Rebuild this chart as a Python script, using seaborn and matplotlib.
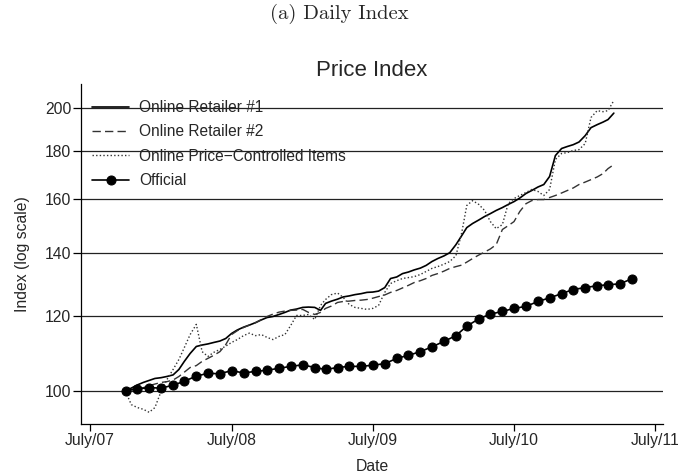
import matplotlib
matplotlib.use("Agg")
import matplotlib.pyplot as plt
from matplotlib.ticker import FixedLocator, FixedFormatter, NullLocator
import seaborn as sns
import pandas as pd

# semi-monthly readings (1st and 16th), Oct 2007 - Mar 2011
first_month = "2007-10-01"
last_month = "2011-03-01"

retailer1 = [
    99.9, 100.6, 101.4, 102.0, 102.5, 103.0, 103.2, 103.5, 103.9, 105.3,
    107.4, 109.5, 111.4, 111.8, 112.1, 112.5, 112.9, 113.6, 115.0, 116.0,
    116.8, 117.4, 118.1, 118.9, 119.6, 119.9, 120.5, 121.1, 121.8, 122.1,
    122.6, 122.7, 122.6, 121.7, 123.8, 124.5, 125.1, 125.8, 126.1, 126.5,
    126.8, 127.2, 127.3, 127.6, 128.7, 131.6, 132.1, 133.2, 133.7, 134.4,
    135.0, 135.9, 137.2, 138.2, 139.1, 140.2, 143.0, 146.2, 149.1, 150.6,
    151.9, 153.2, 154.3, 155.5, 156.6, 157.8, 158.9, 160.3, 162.1, 163.3,
    164.7, 165.7, 169.0, 177.9, 181.0, 181.9, 182.7, 183.9, 186.8, 190.5,
    191.9, 193.1, 194.3, 197.4,
]

retailer2 = [
    99.9, 100.2, 100.5, 100.7, 101.2, 101.6, 102.0, 102.2, 102.6, 103.5,
    104.6, 105.8, 106.3, 107.4, 108.2, 109.0, 110.0, 111.9, 114.7, 115.8,
    116.7, 117.4, 118.1, 119.0, 119.9, 120.6, 121.2, 121.5, 121.7, 121.8,
    122.0, 121.1, 120.5, 121.1, 122.3, 123.0, 124.1, 124.4, 124.5, 124.7,
    124.8, 125.0, 125.4, 125.9, 126.4, 127.2, 127.8, 128.6, 129.4, 130.3,
    130.9, 131.6, 132.6, 133.2, 134.0, 134.9, 135.5, 136.0, 137.0, 138.2,
    139.4, 140.4, 141.5, 143.0, 148.4, 149.8, 151.3, 155.1, 158.1, 159.3,
    159.7, 159.7, 160.5, 161.3, 162.3, 163.3, 164.3, 165.7, 166.7, 167.7,
    168.8, 170.2, 172.3, 174.0,
]

price_controlled = [
    99.8, 96.6, 95.9, 95.5, 94.8, 95.9, 99.8, 102.7, 105.3, 107.9,
    111.1, 114.7, 117.6, 110.0, 108.7, 109.8, 110.6, 111.5, 112.5, 113.3,
    114.4, 115.1, 114.4, 114.7, 113.9, 113.3, 114.2, 114.7, 117.3, 120.2,
    120.2, 120.5, 119.0, 123.2, 125.0, 126.5, 127.0, 125.6, 123.5, 122.6,
    122.3, 122.0, 122.3, 123.2, 127.2, 130.0, 130.9, 131.6, 131.9, 132.2,
    132.9, 133.9, 134.9, 135.5, 136.3, 137.2, 139.2, 147.3, 157.4, 159.3,
    157.8, 155.5, 151.3, 148.7, 150.2, 158.1, 160.1, 161.3, 162.5, 163.7,
    162.9, 161.3, 163.7, 176.2, 178.8, 179.2, 180.1, 180.5, 183.2, 195.3,
    198.6, 198.1, 198.6, 203.6,
]

# monthly official CPI, Oct 2007 - May 2011
official_start = "2007-10-01"
official = [
    100.0, 100.4, 100.7, 100.6, 101.3, 102.3, 103.6, 104.3, 104.2, 105.0,
    104.4, 104.8, 105.1, 105.6, 106.1, 106.5, 105.8, 105.3, 105.8, 106.1,
    106.1, 106.4, 106.8, 108.2, 109.0, 110.0, 111.3, 112.8, 114.4, 117.1,
    119.2, 120.6, 121.4, 122.3, 122.9, 124.4, 125.5, 126.8, 128.1, 128.7,
    129.3, 129.6, 129.9, 131.5,
]

y_ticks = [100, 120, 140, 160, 180, 200]
x_ticks = ["2007-07-01", "2008-07-01", "2009-07-01", "2010-07-01", "2011-07-01"]
x_tick_labels = ["July/07", "July/08", "July/09", "July/10", "July/11"]

sns.set_theme(style="white")
plt.rcParams["font.family"] = ["Liberation Sans", "DejaVu Sans"]

months = pd.date_range(first_month, last_month, freq="MS")
half_dates = sorted(list(months) + list(months + pd.Timedelta(days=15)))
daily = pd.DataFrame({
    "date": half_dates,
    "r1": retailer1,
    "r2": retailer2,
    "pc": price_controlled,
})
monthly = pd.DataFrame({
    "date": pd.date_range(official_start, periods=len(official), freq="MS"),
    "official": official,
})

fig = plt.figure(figsize=(6.79, 4.76), dpi=100)
ax = fig.add_axes([0.1193, 0.1100, 0.8571, 0.7135])

sns.lineplot(data=daily, x="date", y="r1", ax=ax, color="black", lw=1.2,
             label="Online Retailer #1")
sns.lineplot(data=daily, x="date", y="r2", ax=ax, color="#333333", lw=1.0,
             linestyle=(0, (6, 3)), label="Online Retailer #2")
sns.lineplot(data=daily, x="date", y="pc", ax=ax, color="#333333", lw=1.0,
             linestyle=(0, (1, 1.6)), label="Online Price\u2212Controlled Items")
sns.lineplot(data=monthly, x="date", y="official", ax=ax, color="black", lw=1.2,
             marker="o", markersize=6.5, markeredgecolor="black",
             label="Official")

ax.set_yscale("log")
ax.set_ylim(92.2, 212)
ax.yaxis.set_major_locator(FixedLocator(y_ticks))
ax.yaxis.set_major_formatter(FixedFormatter([str(t) for t in y_ticks]))
ax.yaxis.set_minor_locator(NullLocator())
for t in y_ticks:
    ax.axhline(t, color="#222222", lw=0.9, zorder=0)

ax.set_xlim(pd.Timestamp("2007-06-08"), pd.Timestamp("2011-07-21"))
ax.set_xticks([pd.Timestamp(d) for d in x_ticks])
ax.set_xticklabels(x_tick_labels)
ax.xaxis.set_minor_locator(NullLocator())

ax.tick_params(axis="x", length=5, width=0.9, color="black", labelsize=11.3, pad=2, bottom=True)
ax.tick_params(axis="y", length=5.5, width=0.9, color="black", labelsize=11.3, pad=1.5, left=True)

for side in ["top", "right"]:
    ax.spines[side].set_visible(False)
for side in ["left", "bottom"]:
    ax.spines[side].set_color("black")
    ax.spines[side].set_linewidth(0.9)

ax.set_xlabel("Date", fontsize=11.3, labelpad=8)
ax.set_ylabel("Index (log scale)", fontsize=11.3, labelpad=11)
ax.set_title("Price Index", fontsize=16, pad=6)

ax.legend(loc="upper left", frameon=False, fontsize=11.2, handlelength=2.4,
          handletextpad=0.65, labelspacing=0.6, borderaxespad=0.3,
          bbox_to_anchor=(0.0, 0.985))

fig.text(0.5, 1 - 14 / 476, "(a) Daily Index", ha="center", va="center",
         fontsize=14.8, family="cmr10")

fig.savefig("out.png", dpi=100)
